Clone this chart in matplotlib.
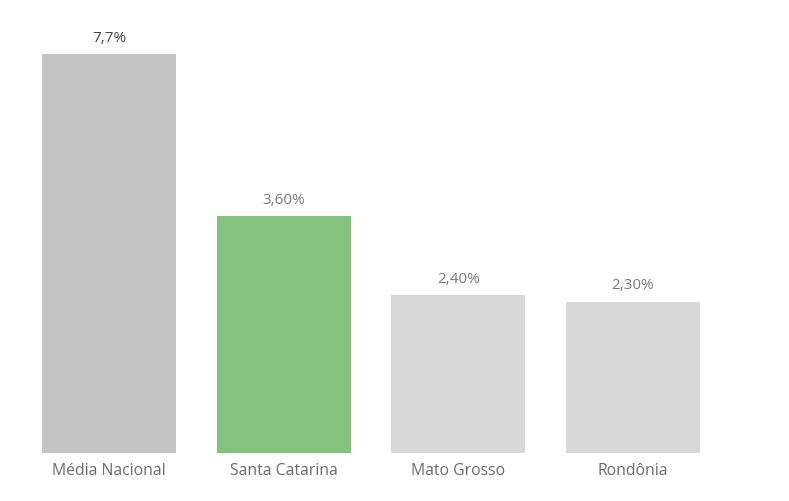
import matplotlib
matplotlib.use("Agg")
import matplotlib.pyplot as plt

categories = ["Média Nacional", "Santa Catarina", "Mato Grosso", "Rondônia"]
values = [7.7, 3.6, 2.4, 2.3]
labels = ["7,7%", "3,60%", "2,40%", "2,30%"]
colors = ["#c4c4c4", "#83c37d", "#d8d8d8", "#d8d8d8"]
label_colors = ["#444444", "#7a7a7a", "#7a7a7a", "#7a7a7a"]

plt.rcParams['font.family'] = ['Open Sans', 'DejaVu Sans']

W, H = 789, 501
fig = plt.figure(figsize=(W / 100, H / 100), dpi=100)
left, right, top, bottom = 21.7, 720.4, 54, 453
ax = fig.add_axes([left / W, (H - bottom) / H, (right - left) / W, (bottom - top) / H])

x = list(range(len(categories)))
ax.bar(x, values, width=0.767, color=colors)
ymax = 6.07
ax.set_xlim(-0.5, 3.5)
ax.set_ylim(0, ymax)

for xi, v, lab, c in zip(x, values, labels, label_colors):
    ax.annotate(lab, (xi, min(v, ymax)), xytext=(0, 6), textcoords="offset points",
                ha="center", va="bottom", fontsize=11, color=c, clip_on=False)

ax.set_xticks(x)
ax.set_xticklabels(categories, fontsize=11.3, color="#6b6b6b")
ax.tick_params(axis="x", length=0, pad=7)
ax.set_yticks([])
for s in ax.spines.values():
    s.set_visible(False)

fig.savefig("out.png", dpi=100)
